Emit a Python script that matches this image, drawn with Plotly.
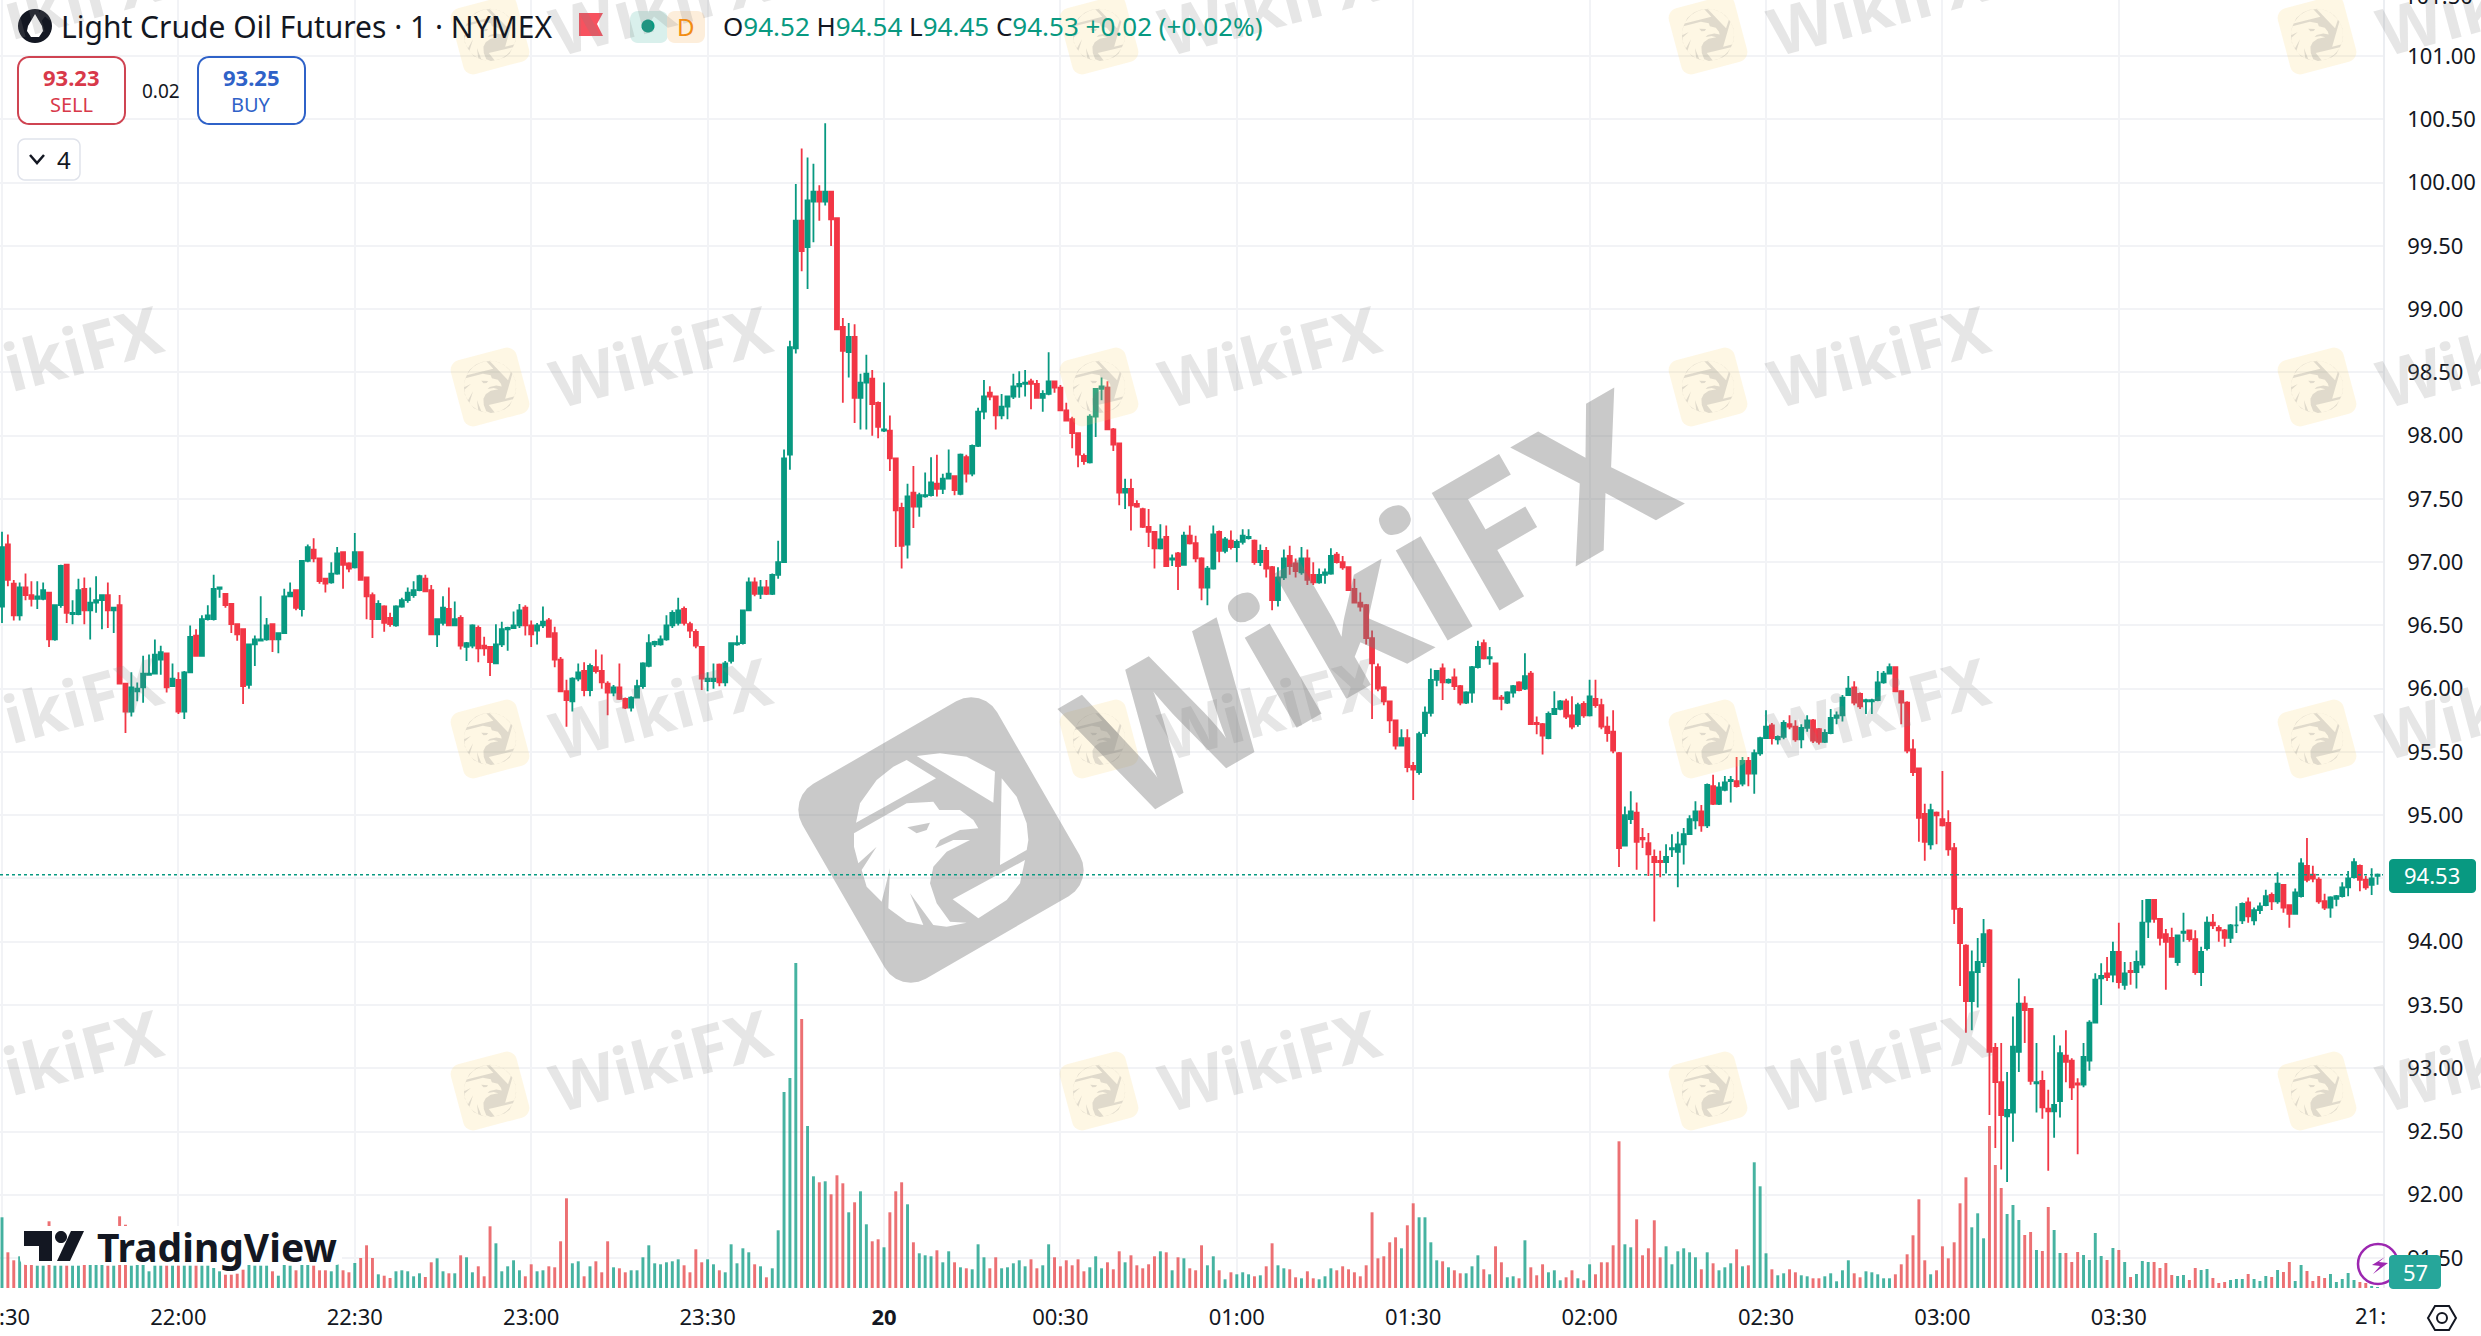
import math
import plotly.graph_objects as go

# one-minute bars (21:30 -> 04:14), ten values per row
opens = [
    96.65, 97.14, 96.83, 96.58, 96.80, 96.74, 96.71, 96.71, 96.76, 96.39,
    96.66, 96.98, 96.59, 96.59, 96.79, 96.62, 96.68, 96.70, 96.74, 96.62,
    96.66, 96.04, 95.82, 95.98, 96.01, 96.11, 96.12, 96.23, 96.28, 96.02,
    96.07, 95.82, 96.13, 96.42, 96.26, 96.55, 96.55, 96.79, 96.75, 96.67,
    96.51, 96.47, 96.03, 96.35, 96.38, 96.39, 96.51, 96.39, 96.44, 96.73,
    96.78, 96.63, 97.01, 97.10, 97.03, 96.87, 96.84, 96.91, 97.08, 96.99,
    96.96, 97.08, 96.88, 96.74, 96.55, 96.65, 96.56, 96.50, 96.65, 96.70,
    96.74, 96.78, 96.87, 96.78, 96.43, 96.52, 96.63, 96.50, 96.56, 96.33,
    96.34, 96.48, 96.34, 96.33, 96.20, 96.35, 96.47, 96.48, 96.50, 96.64,
    96.50, 96.46, 96.50, 96.54, 96.44, 96.23, 95.98, 95.90, 96.08, 96.14,
    95.99, 96.17, 96.14, 96.04, 95.97, 96.01, 95.92, 95.85, 95.93, 96.02,
    96.18, 96.35, 96.35, 96.39, 96.50, 96.52, 96.63, 96.51, 96.45, 96.33,
    96.06, 96.06, 96.19, 96.05, 96.22, 96.35, 96.36, 96.62, 96.84, 96.75,
    96.80, 96.75, 96.90, 97.00, 97.85, 98.69, 99.70, 99.49, 99.85, 99.93,
    99.85, 99.93, 99.72, 98.86, 98.66, 98.78, 98.30, 98.42, 98.45, 98.26,
    98.04, 98.04, 97.82, 97.43, 97.14, 97.55, 97.44, 97.52, 97.53, 97.62,
    97.58, 97.66, 97.68, 97.54, 97.83, 97.70, 97.92, 98.19, 98.34, 98.31,
    98.16, 98.23, 98.31, 98.39, 98.41, 98.43, 98.41, 98.30, 98.33, 98.43,
    98.38, 98.20, 98.13, 98.02, 97.84, 97.79, 98.15, 98.37, 98.38, 98.05,
    97.94, 97.55, 97.58, 97.46, 97.42, 97.28, 97.24, 97.11, 97.20, 97.02,
    97.07, 96.98, 97.21, 97.15, 97.03, 96.80, 96.95, 97.24, 97.09, 97.17,
    97.12, 97.16, 97.19, 97.17, 97.00, 97.09, 96.96, 96.70, 96.88, 97.05,
    96.99, 96.92, 97.03, 96.90, 96.84, 96.90, 96.91, 97.06, 97.00, 96.96,
    96.79, 96.68, 96.66, 96.40, 96.17, 96.01, 95.90, 95.75, 95.55, 95.61,
    95.39, 95.34, 95.65, 95.81, 96.07, 96.16, 96.05, 96.09, 96.02, 95.89,
    95.97, 96.17, 96.36, 96.24, 96.20, 95.93, 95.89, 95.97, 96.05, 96.00,
    96.12, 95.73, 95.72, 95.61, 95.80, 95.84, 95.90, 95.79, 95.72, 95.88,
    95.79, 95.92, 95.87, 95.70, 95.66, 95.49, 94.76, 94.97, 95.02, 94.82,
    94.78, 94.67, 94.64, 94.63, 94.73, 94.71, 94.77, 94.85, 94.96, 95.03,
    94.92, 95.23, 95.09, 95.20, 95.27, 95.27, 95.25, 95.43, 95.33, 95.49,
    95.61, 95.71, 95.60, 95.62, 95.72, 95.70, 95.60, 95.69, 95.75, 95.68,
    95.58, 95.65, 95.77, 95.79, 95.95, 96.01, 95.96, 95.90, 95.90, 95.91,
    96.05, 96.12, 96.17, 95.98, 95.89, 95.52, 95.37, 95.01, 94.77, 95.02,
    94.97, 94.94, 94.74, 94.26, 93.97, 93.53, 93.76, 93.84, 94.09, 93.16,
    92.89, 92.62, 92.65, 93.13, 93.51, 93.47, 92.88, 92.90, 92.68, 92.66,
    92.74, 93.10, 93.06, 92.88, 92.87, 93.06, 93.36, 93.71, 93.75, 93.74,
    93.92, 93.66, 93.77, 93.76, 93.82, 94.16, 94.33, 94.18, 94.06, 94.03,
    93.84, 94.07, 94.09, 94.02, 93.76, 93.95, 94.15, 94.11, 94.09, 94.03,
    94.13, 94.17, 94.31, 94.17, 94.25, 94.29, 94.37, 94.32, 94.45, 94.29,
    94.22, 94.36, 94.60, 94.53, 94.49, 94.32, 94.27, 94.34, 94.36, 94.43,
    94.51, 94.60, 94.49, 94.45, 94.52,
]
highs = [
    97.24, 97.22, 96.86, 96.84, 96.91, 96.85, 96.85, 96.84, 96.76, 96.66,
    96.98, 96.98, 96.70, 96.87, 96.88, 96.80, 96.89, 96.74, 96.84, 96.64,
    96.74, 96.04, 96.13, 96.05, 96.26, 96.27, 96.39, 96.34, 96.28, 96.20,
    96.13, 96.14, 96.50, 96.47, 96.58, 96.66, 96.90, 96.80, 96.75, 96.67,
    96.51, 96.47, 96.35, 96.42, 96.73, 96.56, 96.51, 96.44, 96.79, 96.84,
    96.78, 97.01, 97.14, 97.19, 97.03, 96.87, 97.00, 97.12, 97.08, 97.00,
    97.23, 97.08, 96.88, 96.76, 96.70, 96.66, 96.60, 96.66, 96.72, 96.80,
    96.85, 96.90, 96.90, 96.82, 96.55, 96.73, 96.80, 96.69, 96.58, 96.37,
    96.51, 96.50, 96.41, 96.33, 96.51, 96.53, 96.49, 96.61, 96.67, 96.66,
    96.54, 96.52, 96.65, 96.56, 96.49, 96.25, 96.07, 96.09, 96.20, 96.21,
    96.20, 96.31, 96.27, 96.06, 96.03, 96.20, 95.93, 95.94, 96.07, 96.21,
    96.43, 96.38, 96.42, 96.58, 96.62, 96.72, 96.65, 96.53, 96.47, 96.33,
    96.13, 96.20, 96.20, 96.22, 96.36, 96.42, 96.62, 96.88, 96.88, 96.86,
    96.86, 96.91, 97.17, 97.89, 98.75, 99.99, 100.27, 100.20, 100.15, 99.98,
    100.47, 99.93, 99.72, 98.93, 98.89, 98.88, 98.49, 98.64, 98.52, 98.27,
    98.42, 98.16, 97.82, 97.47, 97.62, 97.76, 97.55, 97.71, 97.83, 97.85,
    97.70, 97.89, 97.68, 97.86, 97.85, 97.93, 98.22, 98.44, 98.39, 98.31,
    98.33, 98.31, 98.49, 98.51, 98.52, 98.45, 98.44, 98.36, 98.66, 98.43,
    98.40, 98.26, 98.15, 98.02, 97.86, 98.17, 98.37, 98.46, 98.43, 98.06,
    97.94, 97.66, 97.66, 97.49, 97.43, 97.42, 97.24, 97.30, 97.29, 97.06,
    97.08, 97.24, 97.29, 97.21, 97.04, 96.97, 97.29, 97.25, 97.20, 97.25,
    97.18, 97.26, 97.26, 97.18, 97.14, 97.12, 96.97, 96.96, 97.10, 97.13,
    97.03, 97.12, 97.10, 97.00, 96.95, 96.95, 97.11, 97.08, 97.05, 96.96,
    96.87, 96.76, 96.67, 96.46, 96.20, 96.02, 95.90, 95.75, 95.68, 95.68,
    95.42, 95.66, 95.86, 96.16, 96.14, 96.20, 96.08, 96.16, 96.03, 95.98,
    96.18, 96.38, 96.39, 96.33, 96.20, 95.95, 95.98, 96.03, 96.06, 96.28,
    96.14, 95.78, 95.73, 95.82, 95.98, 95.91, 95.92, 95.94, 95.89, 95.90,
    96.07, 96.07, 95.92, 95.78, 95.83, 95.50, 95.07, 95.19, 95.10, 94.90,
    94.86, 94.73, 94.72, 94.77, 94.85, 94.87, 94.90, 95.00, 95.11, 95.08,
    95.25, 95.32, 95.26, 95.31, 95.31, 95.46, 95.46, 95.46, 95.52, 95.62,
    95.83, 95.73, 95.63, 95.75, 95.79, 95.75, 95.72, 95.79, 95.76, 95.69,
    95.68, 95.84, 95.82, 95.95, 96.10, 96.06, 95.97, 95.92, 95.92, 96.14,
    96.14, 96.20, 96.17, 95.98, 95.90, 95.60, 95.37, 95.09, 95.09, 95.03,
    95.35, 95.04, 94.78, 94.27, 93.98, 93.93, 94.03, 94.18, 94.10, 93.20,
    93.20, 92.97, 93.41, 93.71, 93.57, 93.47, 93.20, 92.98, 92.83, 93.26,
    93.18, 93.30, 93.08, 92.92, 93.20, 93.38, 93.75, 93.83, 93.88, 94.00,
    94.15, 93.84, 93.84, 93.93, 94.33, 94.33, 94.33, 94.18, 94.10, 94.11,
    94.05, 94.23, 94.09, 94.09, 93.96, 94.20, 94.22, 94.13, 94.10, 94.14,
    94.28, 94.31, 94.35, 94.27, 94.31, 94.41, 94.39, 94.55, 94.45, 94.29,
    94.42, 94.66, 94.82, 94.60, 94.51, 94.38, 94.36, 94.37, 94.47, 94.56,
    94.66, 94.61, 94.52, 94.58, 94.54,
]
lows = [
    96.52, 96.81, 96.54, 96.54, 96.70, 96.65, 96.63, 96.70, 96.33, 96.38,
    96.64, 96.52, 96.51, 96.58, 96.51, 96.39, 96.60, 96.47, 96.48, 96.44,
    96.04, 95.65, 95.78, 95.90, 95.89, 96.11, 96.12, 96.11, 95.97, 96.02,
    95.80, 95.76, 96.13, 96.26, 96.26, 96.54, 96.54, 96.72, 96.64, 96.44,
    96.38, 95.88, 96.00, 96.18, 96.38, 96.38, 96.29, 96.28, 96.44, 96.73,
    96.62, 96.57, 97.00, 97.00, 96.83, 96.76, 96.83, 96.90, 96.79, 96.92,
    96.95, 96.86, 96.55, 96.40, 96.55, 96.45, 96.49, 96.49, 96.64, 96.68,
    96.72, 96.77, 96.77, 96.43, 96.33, 96.50, 96.50, 96.50, 96.31, 96.22,
    96.32, 96.21, 96.26, 96.10, 96.20, 96.33, 96.30, 96.48, 96.48, 96.42,
    96.33, 96.35, 96.48, 96.41, 96.17, 95.98, 95.70, 95.82, 96.06, 95.94,
    95.94, 96.12, 96.00, 95.79, 95.94, 95.91, 95.84, 95.82, 95.93, 96.00,
    96.17, 96.33, 96.34, 96.38, 96.48, 96.50, 96.50, 96.40, 96.32, 95.99,
    95.98, 96.00, 96.02, 96.02, 96.20, 96.34, 96.35, 96.62, 96.73, 96.71,
    96.74, 96.74, 96.87, 97.00, 97.73, 98.65, 99.30, 99.16, 99.53, 99.70,
    99.82, 99.50, 98.84, 98.26, 98.46, 98.10, 98.05, 98.05, 98.00, 97.98,
    98.03, 97.72, 97.12, 96.95, 97.03, 97.27, 97.36, 97.51, 97.52, 97.52,
    97.54, 97.66, 97.53, 97.53, 97.63, 97.68, 97.91, 98.13, 98.28, 98.05,
    98.13, 98.13, 98.29, 98.30, 98.31, 98.21, 98.30, 98.19, 98.32, 98.34,
    98.20, 98.12, 97.90, 97.75, 97.77, 97.78, 97.99, 98.28, 98.05, 97.88,
    97.45, 97.42, 97.25, 97.43, 97.27, 97.12, 96.95, 97.10, 96.97, 96.97,
    96.78, 96.98, 97.14, 97.00, 96.70, 96.66, 96.94, 97.00, 97.07, 97.10,
    97.00, 97.14, 97.18, 96.98, 96.97, 96.88, 96.62, 96.65, 96.86, 96.90,
    96.88, 96.90, 96.82, 96.82, 96.83, 96.83, 96.90, 96.99, 96.94, 96.78,
    96.68, 96.61, 96.35, 95.76, 95.98, 95.87, 95.65, 95.52, 95.55, 95.34,
    95.12, 95.32, 95.62, 95.78, 96.02, 95.91, 96.04, 95.99, 95.87, 95.88,
    95.89, 96.16, 96.23, 96.19, 95.92, 95.83, 95.88, 95.93, 95.98, 95.99,
    95.72, 95.64, 95.48, 95.60, 95.80, 95.83, 95.76, 95.68, 95.70, 95.77,
    95.78, 95.85, 95.68, 95.58, 95.49, 94.59, 94.76, 94.93, 94.57, 94.74,
    94.52, 94.16, 94.51, 94.54, 94.67, 94.43, 94.61, 94.85, 94.89, 94.87,
    94.90, 95.08, 95.08, 95.19, 95.10, 95.22, 95.23, 95.23, 95.17, 95.47,
    95.61, 95.56, 95.56, 95.60, 95.68, 95.58, 95.53, 95.66, 95.57, 95.56,
    95.57, 95.64, 95.72, 95.74, 95.95, 95.87, 95.84, 95.80, 95.80, 95.90,
    96.04, 96.12, 95.98, 95.72, 95.49, 95.31, 94.79, 94.64, 94.73, 94.77,
    94.91, 94.68, 94.14, 93.65, 93.28, 93.30, 93.48, 93.80, 92.63, 92.37,
    92.20, 92.10, 92.42, 92.97, 93.20, 92.87, 92.65, 92.60, 92.19, 92.45,
    92.61, 92.89, 92.75, 92.32, 92.85, 92.98, 93.36, 93.50, 93.69, 93.68,
    93.63, 93.62, 93.66, 93.63, 93.79, 94.03, 94.15, 93.97, 93.62, 93.88,
    93.81, 94.00, 94.00, 93.74, 93.65, 93.93, 94.10, 94.00, 93.96, 93.99,
    94.07, 94.14, 94.15, 94.13, 94.22, 94.28, 94.25, 94.30, 94.23, 94.11,
    94.22, 94.35, 94.47, 94.47, 94.30, 94.25, 94.19, 94.28, 94.35, 94.36,
    94.50, 94.40, 94.41, 94.37, 94.45,
]
closes = [
    97.12, 96.86, 96.58, 96.80, 96.74, 96.71, 96.73, 96.78, 96.39, 96.66,
    96.97, 96.60, 96.60, 96.78, 96.62, 96.68, 96.70, 96.74, 96.62, 96.64,
    96.04, 95.82, 96.01, 96.00, 96.12, 96.12, 96.27, 96.29, 96.01, 96.08,
    95.82, 96.13, 96.41, 96.26, 96.55, 96.58, 96.79, 96.80, 96.66, 96.51,
    96.43, 96.02, 96.35, 96.39, 96.39, 96.50, 96.39, 96.44, 96.73, 96.76,
    96.64, 97.01, 97.12, 97.03, 96.85, 96.83, 96.91, 97.07, 96.98, 96.95,
    97.08, 96.86, 96.73, 96.55, 96.67, 96.52, 96.51, 96.65, 96.70, 96.76,
    96.78, 96.89, 96.77, 96.43, 96.55, 96.64, 96.50, 96.55, 96.34, 96.36,
    96.50, 96.32, 96.32, 96.21, 96.35, 96.47, 96.48, 96.50, 96.62, 96.50,
    96.43, 96.50, 96.53, 96.41, 96.23, 95.98, 95.91, 96.08, 96.13, 95.99,
    96.18, 96.14, 96.05, 95.97, 96.01, 95.92, 95.85, 95.93, 96.02, 96.20,
    96.36, 96.37, 96.39, 96.50, 96.60, 96.62, 96.52, 96.46, 96.34, 96.08,
    96.08, 96.08, 96.05, 96.20, 96.36, 96.36, 96.62, 96.84, 96.75, 96.80,
    96.75, 96.90, 97.00, 97.82, 98.70, 99.70, 99.46, 99.86, 99.93, 99.85,
    99.93, 99.71, 98.84, 98.67, 98.78, 98.30, 98.42, 98.49, 98.25, 98.07,
    98.05, 97.82, 97.41, 97.13, 97.52, 97.44, 97.53, 97.53, 97.63, 97.58,
    97.66, 97.70, 97.57, 97.85, 97.70, 97.92, 98.19, 98.31, 98.31, 98.16,
    98.23, 98.31, 98.39, 98.41, 98.42, 98.41, 98.30, 98.33, 98.43, 98.38,
    98.20, 98.12, 98.02, 97.85, 97.80, 98.15, 98.37, 98.39, 98.05, 97.93,
    97.55, 97.58, 97.45, 97.44, 97.28, 97.24, 97.11, 97.18, 96.97, 97.03,
    96.97, 97.21, 97.15, 97.03, 96.80, 96.95, 97.22, 97.09, 97.18, 97.12,
    97.16, 97.21, 97.20, 97.00, 97.09, 96.95, 96.70, 96.88, 97.03, 96.97,
    96.93, 97.03, 96.86, 96.84, 96.90, 96.92, 97.05, 97.00, 96.96, 96.78,
    96.68, 96.65, 96.40, 96.20, 96.00, 95.90, 95.75, 95.55, 95.61, 95.38,
    95.36, 95.64, 95.81, 96.07, 96.14, 96.05, 96.07, 96.02, 95.89, 95.97,
    96.17, 96.33, 96.24, 96.25, 95.92, 95.92, 95.97, 96.02, 95.99, 96.10,
    95.72, 95.72, 95.63, 95.80, 95.84, 95.90, 95.78, 95.70, 95.87, 95.79,
    95.94, 95.87, 95.70, 95.65, 95.51, 94.74, 95.00, 95.03, 94.79, 94.81,
    94.69, 94.63, 94.63, 94.67, 94.74, 94.77, 94.85, 94.97, 95.03, 94.92,
    95.24, 95.09, 95.22, 95.26, 95.28, 95.23, 95.43, 95.33, 95.49, 95.61,
    95.70, 95.61, 95.62, 95.73, 95.70, 95.60, 95.69, 95.75, 95.59, 95.58,
    95.65, 95.77, 95.79, 95.93, 96.00, 95.89, 95.86, 95.91, 95.91, 96.05,
    96.12, 96.17, 95.98, 95.89, 95.51, 95.34, 94.98, 94.79, 95.04, 95.00,
    94.92, 94.73, 94.26, 93.99, 93.53, 93.76, 93.84, 94.06, 93.13, 92.89,
    92.63, 92.67, 93.17, 93.51, 93.46, 92.90, 92.89, 92.69, 92.66, 92.71,
    93.12, 93.05, 92.85, 92.87, 93.09, 93.36, 93.70, 93.73, 93.72, 93.92,
    93.68, 93.75, 93.76, 93.84, 94.15, 94.33, 94.18, 94.03, 94.00, 93.88,
    94.05, 94.08, 94.02, 93.76, 93.92, 94.15, 94.13, 94.09, 94.03, 94.13,
    94.13, 94.30, 94.20, 94.25, 94.28, 94.36, 94.32, 94.46, 94.27, 94.22,
    94.39, 94.62, 94.49, 94.50, 94.32, 94.27, 94.35, 94.36, 94.43, 94.50,
    94.63, 94.49, 94.43, 94.50, 94.53,
]
volumes = [
    707, 357, 277, 317, 290, 333, 223, 223, 667, 223,
    223, 223, 223, 223, 277, 267, 427, 317, 223, 223,
    717, 633, 223, 283, 250, 167, 223, 223, 223, 223,
    223, 223, 223, 223, 223, 223, 200, 167, 133, 133,
    143, 183, 283, 223, 223, 223, 167, 123, 267, 223,
    177, 250, 267, 223, 177, 177, 167, 300, 177, 157,
    250, 300, 427, 300, 137, 123, 100, 167, 177, 167,
    117, 147, 110, 257, 297, 167, 147, 147, 327, 307,
    157, 217, 117, 617, 447, 167, 217, 277, 177, 117,
    237, 167, 177, 217, 207, 467, 897, 247, 267, 117,
    217, 267, 157, 467, 207, 197, 157, 177, 177, 307,
    427, 247, 237, 257, 267, 287, 227, 157, 387, 257,
    287, 237, 177, 157, 437, 247, 397, 357, 237, 217,
    107, 197, 577, 1960, 2100, 3250, 2690, 1620, 1117, 1057,
    1067, 937, 1127, 1047, 757, 857, 967, 637, 467, 487,
    407, 757, 967, 1057, 837, 457, 347, 327, 317, 377,
    257, 367, 257, 207, 197, 187, 437, 307, 197, 307,
    197, 207, 247, 277, 217, 287, 197, 227, 437, 307,
    217, 277, 227, 287, 167, 207, 317, 197, 257, 187,
    367, 257, 327, 227, 197, 237, 317, 367, 357, 177,
    307, 297, 197, 177, 427, 227, 317, 177, 87, 157,
    137, 157, 137, 117, 127, 217, 447, 227, 197, 187,
    107, 97, 167, 97, 87, 117, 197, 177, 217, 187,
    157, 117, 227, 757, 297, 317, 457, 507, 397, 627,
    847, 707, 707, 457, 277, 267, 207, 177, 147, 147,
    217, 327, 187, 137, 417, 257, 107, 117, 97, 477,
    207, 127, 237, 157, 177, 77, 107, 177, 97, 77,
    237, 137, 257, 257, 427, 1467, 437, 407, 687, 327,
    397, 677, 307, 417, 237, 367, 397, 357, 307, 187,
    357, 247, 177, 207, 247, 387, 217, 227, 1257, 1017,
    347, 187, 127, 147, 187, 157, 127, 117, 97, 97,
    117, 147, 67, 177, 277, 147, 107, 167, 157, 137,
    97, 97, 137, 237, 337, 527, 887, 277, 137, 177,
    417, 297, 457, 847, 1107, 607, 747, 497, 1620, 1230,
    1000, 740, 830, 680, 530, 560, 380, 370, 810, 580,
    350, 350, 260, 360, 330, 280, 550, 320, 280, 400,
    380, 260, 110, 140, 270, 260, 260, 200, 250, 130,
    120, 130, 80, 200, 180, 190, 100, 50, 60, 80,
    90, 90, 140, 90, 70, 120, 110, 180, 160, 260,
    70, 230, 170, 70, 120, 100, 140, 60, 90, 150,
    80, 60, 50, 20, 10,
]
assert len(opens) == len(highs) == len(lows) == len(closes) == len(volumes) == 405

time_ticks = list(range(0, 361, 30))
time_labels = ["21:30", "22:00", "22:30", "23:00", "23:30", "<b>20</b>", "00:30",
               "01:00", "01:30", "02:00", "02:30", "03:00", "03:30"]
price_ticks = [91.5 + 0.5 * k for k in range(20)]

UP = "#089981"
DOWN = "#f23645"
GRID = "#f2f3f6"
FONT = "Noto Sans"
W, H = 2481, 1336
PANE_W, PANE_H = 2383, 1288


# everything decorative below is positioned in screenshot pixels
def px(x):
    return x / PANE_W


def py(y):
    return 1 - y / PANE_H


def path_of(points):
    return "M" + "L".join(f"{px(x):.5f},{py(y):.5f}" for x, y in points) + "Z"


def rot(points, cx, cy, deg):
    a = math.radians(deg)
    return [(cx + x * math.cos(a) - y * math.sin(a), cy + x * math.sin(a) + y * math.cos(a))
            for x, y in points]


def rounded_square(cx, cy, side, r, deg):
    h = side / 2
    pts = []
    for qx, qy, start in [(h - r, -h + r, -90), (h - r, h - r, 0), (-h + r, h - r, 90), (-h + r, -h + r, 180)]:
        for k in range(7):
            t = math.radians(start + 15 * k)
            pts.append((qx + r * math.cos(t), qy + r * math.sin(t)))
    return path_of(rot(pts, cx, cy, deg))


def circle_path(cx, cy, r):
    return path_of([(cx + r * math.cos(math.radians(a)), cy + r * math.sin(math.radians(a)))
                    for a in range(0, 360, 10)])


# white pieces of the eagle logo, measured round the centre of the big watermark
LOGO_PIECES = [
    [(620, 390), (708, 445), (468, 578), (480, 520), (530, 450), (580, 410)],
    [(650, 378), (720, 370), (800, 380), (885, 425), (880, 518)],
    [(905, 445), (950, 500), (980, 580), (985, 630), (980, 660), (900, 705)],
    [(975, 690), (960, 760), (920, 810), (835, 865), (758, 808)],
    [(462, 610), (620, 520), (700, 515), (718, 540), (780, 540), (820, 570), (835, 595),
     (780, 600), (720, 630), (705, 655), (760, 630), (810, 630), (740, 665), (700, 710),
     (690, 760), (710, 820), (750, 875), (800, 878), (740, 890), (700, 885), (630, 790),
     (670, 885), (620, 875), (565, 835), (570, 715), (545, 815), (500, 770), (485, 720),
     (530, 650), (475, 700), (462, 650)],
    [(622, 592), (690, 578), (680, 600), (650, 610)],
]


def logo_holes(cx, cy, scale, deg):
    out = ""
    for piece in LOGO_PIECES:
        pts = [((x - 723) / 3 * scale, (y - 630) / 3 * scale) for x, y in piece]
        out += path_of(rot(pts, cx, cy, deg))
    return out


shapes = []
annotations = []


def shape_path(path, fill, line_color=None, line_width=0):
    shapes.append(dict(type="path", xref="paper", yref="paper", path=path, fillcolor=fill,
                       line=dict(color=line_color or "rgba(0,0,0,0)", width=line_width), layer="above"))


def note(x, y, text, size, color="#131722", anchor="left", angle=0, weight=None, bg=None):
    annotations.append(dict(xref="paper", yref="paper", x=px(x), y=py(y), text=text, showarrow=False,
                            xanchor=anchor, yanchor="middle", textangle=angle, bgcolor=bg,
                            font=dict(family=FONT, size=size, color=color, weight=weight)))


def box(x0, y0, x1, y1, r, fill, line_color=None, line_width=0):
    pts = []
    for qx, qy, start in [(x1 - r, y0 + r, -90), (x1 - r, y1 - r, 0), (x0 + r, y1 - r, 90), (x0 + r, y0 + r, 180)]:
        for k in range(7):
            t = math.radians(start + 15 * k)
            pts.append((qx + r * math.cos(t), qy + r * math.sin(t)))
    shape_path(path_of(pts), fill, line_color, line_width)


# repeating WikiFX watermark
for col in range(-1, 4):
    for row in range(-1, 3):
        lx, ly = 490 + 609 * col, 387 + 352 * row
        shape_path(rounded_square(lx, ly, 68, 10, -15), "rgba(250,215,120,0.2)")
        shape_path(circle_path(lx, ly, 26) + logo_holes(lx, ly, 0.3, 15), "rgba(120,120,120,0.22)")
        note(lx + 170, ly - 32, "<b>WikiFX</b>", 66, "rgba(130,130,130,0.2)", "center", -15)

# big centred watermark
shape_path(rounded_square(941, 840, 225, 30, -30) + logo_holes(941, 840, 1, 0), "rgba(120,120,120,0.4)")
note(1368, 601, "<b>WikiFX</b>", 190, "rgba(120,120,120,0.4)", "center", -30)

# last price line
shapes.append(dict(type="line", xref="paper", yref="y2", x0=0, x1=1, y0=closes[-1], y1=closes[-1],
                   line=dict(color=UP, width=1.5, dash="dot"), layer="above"))

# header
shape_path(circle_path(35, 26, 17) + path_of([(35, 14), (42, 26), (43, 31), (39, 37), (31, 37), (27, 31), (28, 26)]),
           "#131722")
note(59, 26, "Light Crude Oil Futures · 1 · NYMEX", 30)
shape_path(path_of([(579, 13), (603, 13), (597, 24), (603, 36), (579, 36)]), "#f7525f")
box(630, 11, 668, 43, 8, "#d9f0ec")
box(667, 11, 705, 43, 8, "#fdeedb")
shape_path(circle_path(648, 26, 6.5), UP)
note(686, 26, "D", 24, "#f28c13", "center")
val = '<span style="color:#089981">{}</span>'
note(721, 26, "O" + val.format("94.52") + " H" + val.format("94.54") + " L" + val.format("94.45")
     + " C" + val.format("94.53") + " " + val.format("+0.02 (+0.02%)"), 26)

# sell / buy buttons
box(18, 57, 125, 124, 11, "white", "#cf4452", 2)
note(71, 77, "<b>93.23</b>", 22, "#d8394a", "center")
note(71, 104, "SELL", 20, "#d8394a", "center")
note(161, 91, "0.02", 19, "#131722", "center")
box(198, 57, 305, 124, 11, "white", "#2f62c8", 2)
note(251, 77, "<b>93.25</b>", 22, "#2f62c8", "center")
note(251, 104, "BUY", 20, "#2f62c8", "center")
box(18, 139, 80, 180, 7, "white", "#e0e3eb", 1.5)
shapes.append(dict(type="path", xref="paper", yref="paper", layer="above",
                   path=f"M{px(30)},{py(155)}L{px(37)},{py(163)}L{px(44)},{py(155)}",
                   line=dict(color="#131722", width=2.5)))
note(64, 159, "4", 24, "#131722", "center")

# TradingView mark, with the white halo that hides the volume bars behind it
box(20, 1226, 342, 1265, 6, "white")
shape_path(path_of([(24, 1231), (52, 1231), (52, 1261), (39, 1261), (39, 1246), (24, 1246)]), "#131722")
shape_path(circle_path(61, 1237, 6), "#131722")
shape_path(path_of([(71, 1231), (84, 1231), (70, 1261), (57, 1261)]), "#131722")
note(95, 1246, "<b>TradingView</b>", 39)

# right scale extras
note(2402, -5, "101.50", 22)
box(2389, 859, 2476, 893, 4, "#089981")
note(2402, 875, "94.53", 22, "white")
shapes.append(dict(type="circle", xref="paper", yref="paper", layer="above",
                   x0=px(2358), x1=px(2398), y0=py(1244), y1=py(1284),
                   line=dict(color="#9c27b0", width=2.5)))
shape_path(path_of([(2385, 1257), (2372, 1265), (2380, 1266), (2373, 1274), (2388, 1263), (2379, 1262)]), "#9c27b0")
box(2389, 1255, 2441, 1289, 4, "#26a69a")
note(2416, 1272, "57", 22, "white", "center")

# bottom scale extras
note(2370, 1315, "21:", 22, "#131722", "center")
shapes.append(dict(type="path", xref="paper", yref="paper", layer="above",
                   path=path_of([(2428, 1318), (2435, 1306), (2449, 1306), (2456, 1318), (2449, 1330), (2435, 1330)]),
                   line=dict(color="#131722", width=2)))
shapes.append(dict(type="circle", xref="paper", yref="paper", layer="above",
                   x0=px(2437), x1=px(2447), y0=py(1313), y1=py(1323), line=dict(color="#131722", width=2)))

bars = list(range(len(closes)))
bar_colors = ["rgba(8,153,129,0.75)" if c >= o else "rgba(231,76,80,0.8)" for o, c in zip(opens, closes)]

fig = go.Figure()
fig.add_trace(go.Bar(x=bars, y=volumes, marker=dict(color=bar_colors, line_width=0), yaxis="y", hoverinfo="skip"))
fig.add_trace(go.Candlestick(
    x=bars, open=opens, high=highs, low=lows, close=closes, yaxis="y2", hoverinfo="skip",
    whiskerwidth=0,
    increasing=dict(line=dict(color=UP, width=1.8), fillcolor=UP),
    decreasing=dict(line=dict(color=DOWN, width=1.8), fillcolor=DOWN),
))

fig.update_layout(
    width=W, height=H,
    margin=dict(l=0, r=W - PANE_W, t=0, b=H - PANE_H, autoexpand=False),
    paper_bgcolor="white", plot_bgcolor="white",
    showlegend=False, bargap=0.5, boxgap=0.2, boxgroupgap=0.15,
    font=dict(family=FONT, color="#131722"),
    xaxis=dict(
        range=[-0.34, 404.93], tickmode="array", tickvals=time_ticks, ticktext=time_labels,
        showgrid=True, gridcolor=GRID, gridwidth=1.5, zeroline=False, automargin=False,
        rangeslider=dict(visible=False), ticks="outside", ticklen=10, tickcolor="rgba(0,0,0,0)",
        tickfont=dict(size=22), ticklabeloverflow="allow", showline=False,
    ),
    yaxis=dict(range=[0, 12880], visible=False, showgrid=False, zeroline=False, automargin=False),
    yaxis2=dict(
        range=[91.263, 101.444], overlaying="y", side="right", tickmode="array",
        tickvals=price_ticks, ticktext=[f"{p:.2f}" for p in price_ticks],
        showgrid=True, gridcolor=GRID, gridwidth=1.5, zeroline=False, automargin=False,
        ticks="outside", ticklen=18, tickcolor="rgba(0,0,0,0)", tickfont=dict(size=22),
        showline=True, linecolor="#eceef2", linewidth=1.5,
    ),
    shapes=shapes,
    annotations=annotations,
)

fig.write_html("out.html", config=dict(displayModeBar=False),
               post_script="document.body.style.margin='0';document.body.style.overflow='hidden';")
